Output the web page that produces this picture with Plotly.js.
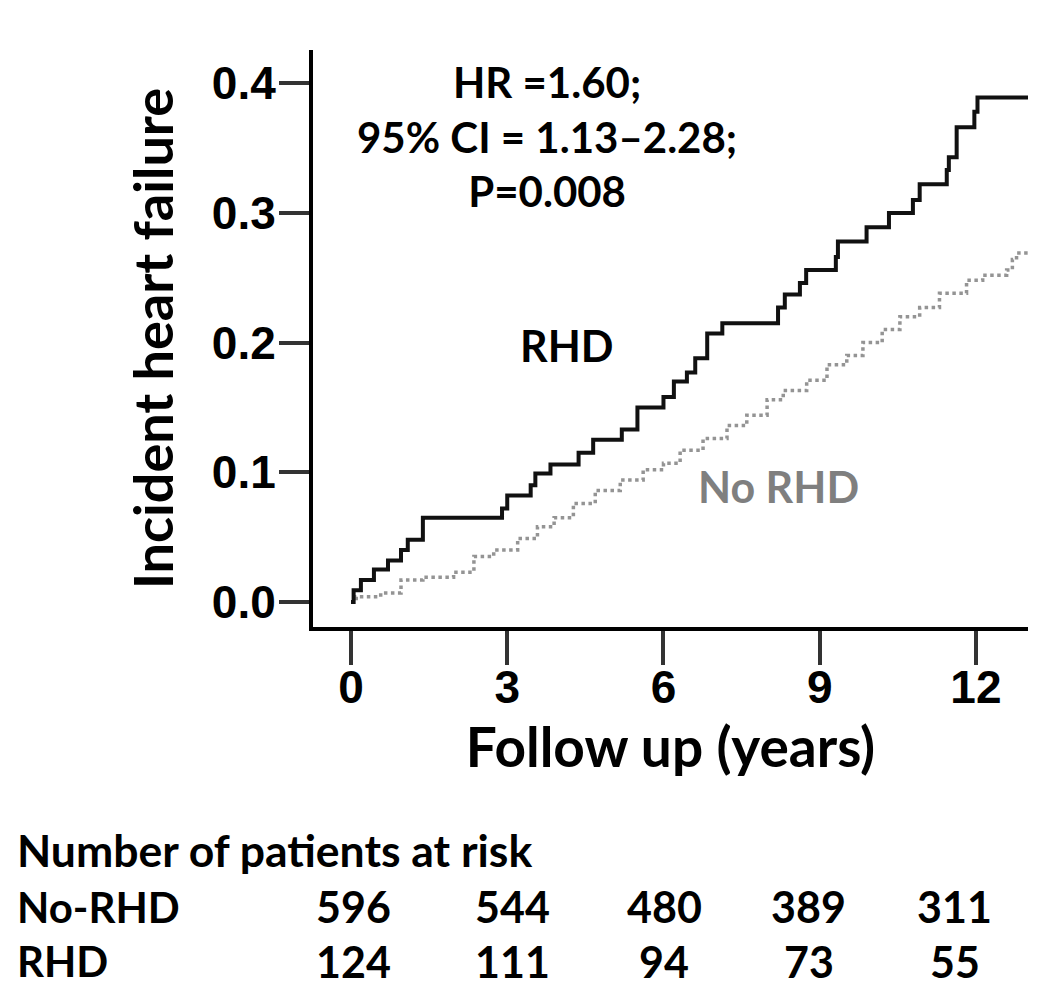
<!DOCTYPE html>
<html>
<head>
<meta charset="utf-8">
<script src="https://cdn.plot.ly/plotly-3.0.1.min.js"></script>
<style>html,body{margin:0;padding:0;background:#fff;}#chart{width:1050px;height:1003px;}</style>
</head>
<body>
<div id="chart"></div>
<script>
// ---- data ----
const rhdTime = [0, 0.05, 0.19, 0.44, 0.71, 0.96, 1.09, 1.38, 2.9, 3.0, 3.45, 3.54, 3.83, 4.37, 4.65, 5.2, 5.5, 6.0, 6.2, 6.45, 6.61, 6.84, 7.13, 8.2, 8.33, 8.62, 8.74, 9.31, 9.35, 9.9, 10.33, 10.79, 10.92, 11.44, 11.48, 11.63, 11.97, 12.03, 13.0];
const rhdIncidence = [0, 0.009, 0.017, 0.025, 0.032, 0.040, 0.048, 0.065, 0.072, 0.082, 0.090, 0.099, 0.106, 0.115, 0.125, 0.133, 0.150, 0.158, 0.170, 0.177, 0.188, 0.207, 0.215, 0.227, 0.237, 0.246, 0.256, 0.266, 0.278, 0.289, 0.300, 0.310, 0.322, 0.333, 0.343, 0.366, 0.378, 0.389, 0.389];

const noRhdTime = [0, 0.1, 0.57, 0.96, 1.38, 1.97, 2.36, 2.74, 3.2, 3.58, 3.9, 4.27, 4.69, 5.17, 5.61, 6.0, 6.32, 6.76, 7.22, 7.6, 7.99, 8.3, 8.75, 9.14, 9.52, 9.83, 10.2, 10.54, 10.92, 11.3, 11.82, 12.13, 12.59, 12.7, 12.78, 13.0];
const noRhdIncidence = [0, 0.004, 0.007, 0.017, 0.019, 0.023, 0.035, 0.040, 0.049, 0.058, 0.065, 0.076, 0.086, 0.094, 0.102, 0.107, 0.117, 0.126, 0.136, 0.144, 0.156, 0.163, 0.171, 0.183, 0.190, 0.200, 0.210, 0.220, 0.227, 0.238, 0.248, 0.252, 0.256, 0.264, 0.269, 0.269];

const xTicks = [0, 3, 6, 9, 12];
const yTicks = [0, 0.1, 0.2, 0.3, 0.4];
const yTickLabels = ["0.0", "0.1", "0.2", "0.3", "0.4"];

const riskTimes = [0, 3, 6, 9, 12];
const riskNoRhd = [596, 544, 480, 389, 311];
const riskRhd = [124, 111, 94, 73, 55];
const riskTitle = "Number of patients at risk";
const riskRowLabels = ["No-RHD", "RHD"];

const statsText = ["HR =1.60;", "95% CI = 1.13\u20132.28;", "P=0.008"];
const seriesLabels = ["RHD", "No RHD"];

// ---- styling ----
const TXT = "Lato, 'Open Sans', sans-serif";
const TICK = "'Liberation Sans', Arial, sans-serif";

const traces = [
  {
    x: noRhdTime, y: noRhdIncidence, type: "scatter", mode: "lines",
    line: {shape: "hv", color: "#949494", width: 3.5, dash: "dot"},
    name: seriesLabels[1], hoverinfo: "skip"
  },
  {
    x: rhdTime, y: rhdIncidence, type: "scatter", mode: "lines",
    line: {shape: "hv", color: "#111111", width: 4},
    name: seriesLabels[0], hoverinfo: "skip"
  }
];

const annotations = [];
annotations.push({
  xref: "x", yref: "y", x: 3.77, y: 0.359, xanchor: "center", yanchor: "middle",
  text: statsText.map(s => "<b>" + s + "</b>").join("<br>"), showarrow: false, align: "center",
  font: {family: TXT, size: 42, color: "#000"}
});
annotations.push({
  xref: "x", yref: "y", x: 4.14, y: 0.198, xanchor: "center", yanchor: "middle",
  text: "<b>" + seriesLabels[0] + "</b>", showarrow: false,
  font: {family: TXT, size: 43, color: "#000"}
});
annotations.push({
  xref: "x", yref: "y", x: 8.2, y: 0.0887, xanchor: "center", yanchor: "middle",
  text: "<b>" + seriesLabels[1] + "</b>", showarrow: false,
  font: {family: TXT, size: 43, color: "#7f7f7f"}
});

// risk table
const rowY = [-0.485, -0.579];
annotations.push({
  xref: "paper", yref: "paper", x: -0.4168, y: -0.385, xanchor: "left", yanchor: "middle",
  text: "<b>" + riskTitle + "</b>", showarrow: false,
  font: {family: TXT, size: 44.5, color: "#000"}
});
[riskNoRhd, riskRhd].forEach((row, r) => {
  annotations.push({
    xref: "paper", yref: "paper", x: -0.4168, y: rowY[r], xanchor: "left", yanchor: "middle",
    text: "<b>" + riskRowLabels[r] + "</b>", showarrow: false,
    font: {family: TXT, size: 42, color: "#000"}
  });
  const shifts = [2, 5, 1, -11, -21];
  row.forEach((n, i) => {
    annotations.push({
      xref: "x", yref: "paper", x: riskTimes[i], y: rowY[r], xanchor: "center", yanchor: "middle",
      xshift: shifts[i],
      text: "<b>" + n + "</b>", showarrow: false,
      font: {family: TXT, size: 43, color: "#000"}
    });
  });
});

const layout = {
  width: 1050, height: 1003,
  margin: {l: 313, r: 22, t: 50, b: 376},
  paper_bgcolor: "#fff", plot_bgcolor: "#fff",
  showlegend: false,
  xaxis: {
    range: [-0.73, 13.0], tickvals: xTicks, ticktext: xTicks.map(String),
    ticks: "outside", ticklen: 34, tickwidth: 4, tickcolor: "#333",
    ticklabelstandoff: -17,
    showline: true, linewidth: 4, linecolor: "#000", mirror: false,
    showgrid: false, zeroline: false,
    tickfont: {family: TICK, size: 46, weight: "bold", color: "#000"},
    title: {text: "Follow up (years)", standoff: 0, font: {family: TXT, size: 55, weight: "bold", color: "#000"}}
  },
  yaxis: {
    range: [-0.0193, 0.4256], tickvals: yTicks, ticktext: yTickLabels,
    ticks: "outside", ticklen: 30, tickwidth: 4, tickcolor: "#333",
    ticklabelstandoff: -6,
    showline: true, linewidth: 4, linecolor: "#000", mirror: false,
    showgrid: false, zeroline: false,
    tickfont: {family: TICK, size: 46, weight: "bold", color: "#000"},
    title: {text: "Incident heart failure", standoff: 22, font: {family: TXT, size: 54, weight: "bold", color: "#000"}}
  },
  annotations: annotations
};

Plotly.newPlot("chart", traces, layout, {staticPlot: true, displayModeBar: false});
</script>
</body>
</html>
